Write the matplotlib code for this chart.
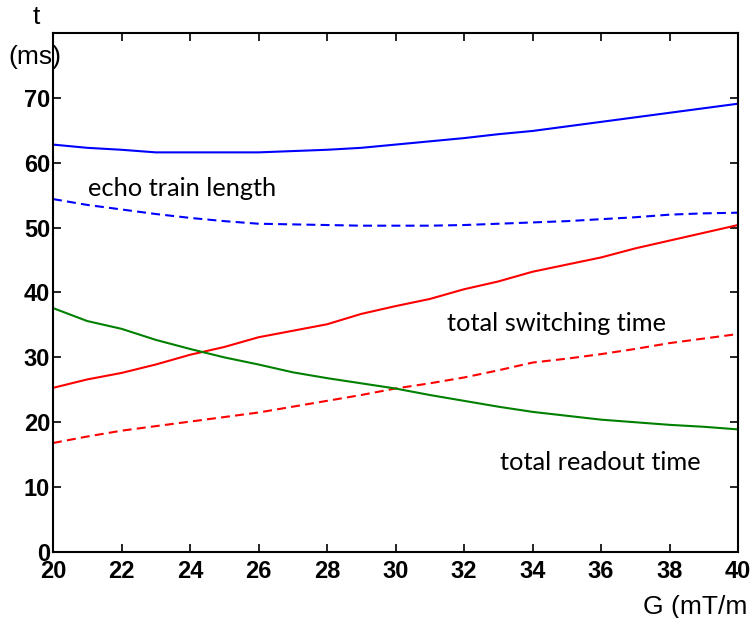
import matplotlib
matplotlib.use("Agg")
import matplotlib.pyplot as plt

# gradient strength G (mT/m)
G = list(range(20, 41))

# echo train length (solid / dashed)
etl_solid = [62.8, 62.3, 62.0, 61.6, 61.6, 61.6, 61.6, 61.8, 62.0, 62.3, 62.8,
             63.3, 63.8, 64.4, 64.9, 65.6, 66.3, 67.0, 67.7, 68.4, 69.1]
etl_dash = [54.4, 53.5, 52.8, 52.1, 51.5, 51.0, 50.6, 50.5, 50.4, 50.3, 50.3,
            50.3, 50.4, 50.6, 50.8, 51.0, 51.3, 51.6, 52.0, 52.2, 52.3]

# total switching time (solid / dashed)
sw_solid = [25.3, 26.6, 27.6, 28.9, 30.4, 31.6, 33.1, 34.1, 35.1, 36.7, 37.9,
            39.0, 40.5, 41.7, 43.2, 44.3, 45.4, 46.8, 48.0, 49.2, 50.4]
sw_dash = [16.8, 17.8, 18.7, 19.4, 20.1, 20.8, 21.5, 22.4, 23.3, 24.2, 25.2,
           26.0, 26.9, 28.0, 29.2, 29.8, 30.5, 31.3, 32.2, 32.9, 33.6]

# total readout time
readout = [37.6, 35.6, 34.4, 32.7, 31.3, 30.0, 28.9, 27.7, 26.8, 26.0, 25.2,
           24.2, 23.3, 22.4, 21.6, 21.0, 20.4, 20.0, 19.6, 19.3, 18.9]

xticks = list(range(20, 41, 2))
yticks = list(range(0, 71, 10))

fig = plt.figure(figsize=(7.55, 6.18), dpi=100)
ax = fig.add_axes([0.0702, 0.1068, 0.9073, 0.8398])

lw = 1.5
dash = (0, (4.3, 2.5))
ax.plot(G, etl_solid, color="#0000ff", lw=lw)
ax.plot(G, etl_dash, color="#0000ff", lw=lw, linestyle=dash)
ax.plot(G, sw_solid, color="#ff0000", lw=lw)
ax.plot(G, sw_dash, color="#ff0000", lw=lw, linestyle=dash)
ax.plot(G, readout, color="#008000", lw=lw)

ax.set_xlim(20, 40)
ax.set_ylim(0, 80)
ax.set_xticks(xticks)
ax.set_yticks(yticks)
ax.tick_params(direction="in", top=True, right=True, length=6, width=1.2,
               labelsize=17)
ax.tick_params(axis="x", pad=6)
ax.tick_params(axis="y", pad=2)
for lab in ax.get_xticklabels() + ax.get_yticklabels():
    lab.set_fontfamily("Liberation Sans")
    lab.set_fontweight("bold")
for s in ax.spines.values():
    s.set_linewidth(1.5)

note_font = dict(family="Lato", fontsize=18.3, color="black", va="center")
ax.text(21.02, 56.1, "echo train length", **note_font)
ax.text(31.5, 35.2, "total switching time", **note_font)
ax.text(33.05, 13.8, "total readout time", **note_font)

fig.text(643 / 755, 1 - 607 / 618, "G (mT/m", family="Liberation Sans",
         fontsize=19, va="center", ha="left")
fig.text(36 / 755, 1 - 17 / 618, "t", family="Liberation Sans",
         fontsize=19, va="center", ha="center")
fig.text(35 / 755, 1 - 57 / 618, "(ms)", family="Liberation Sans",
         fontsize=19, va="center", ha="center")

fig.savefig("out.png", dpi=100)
